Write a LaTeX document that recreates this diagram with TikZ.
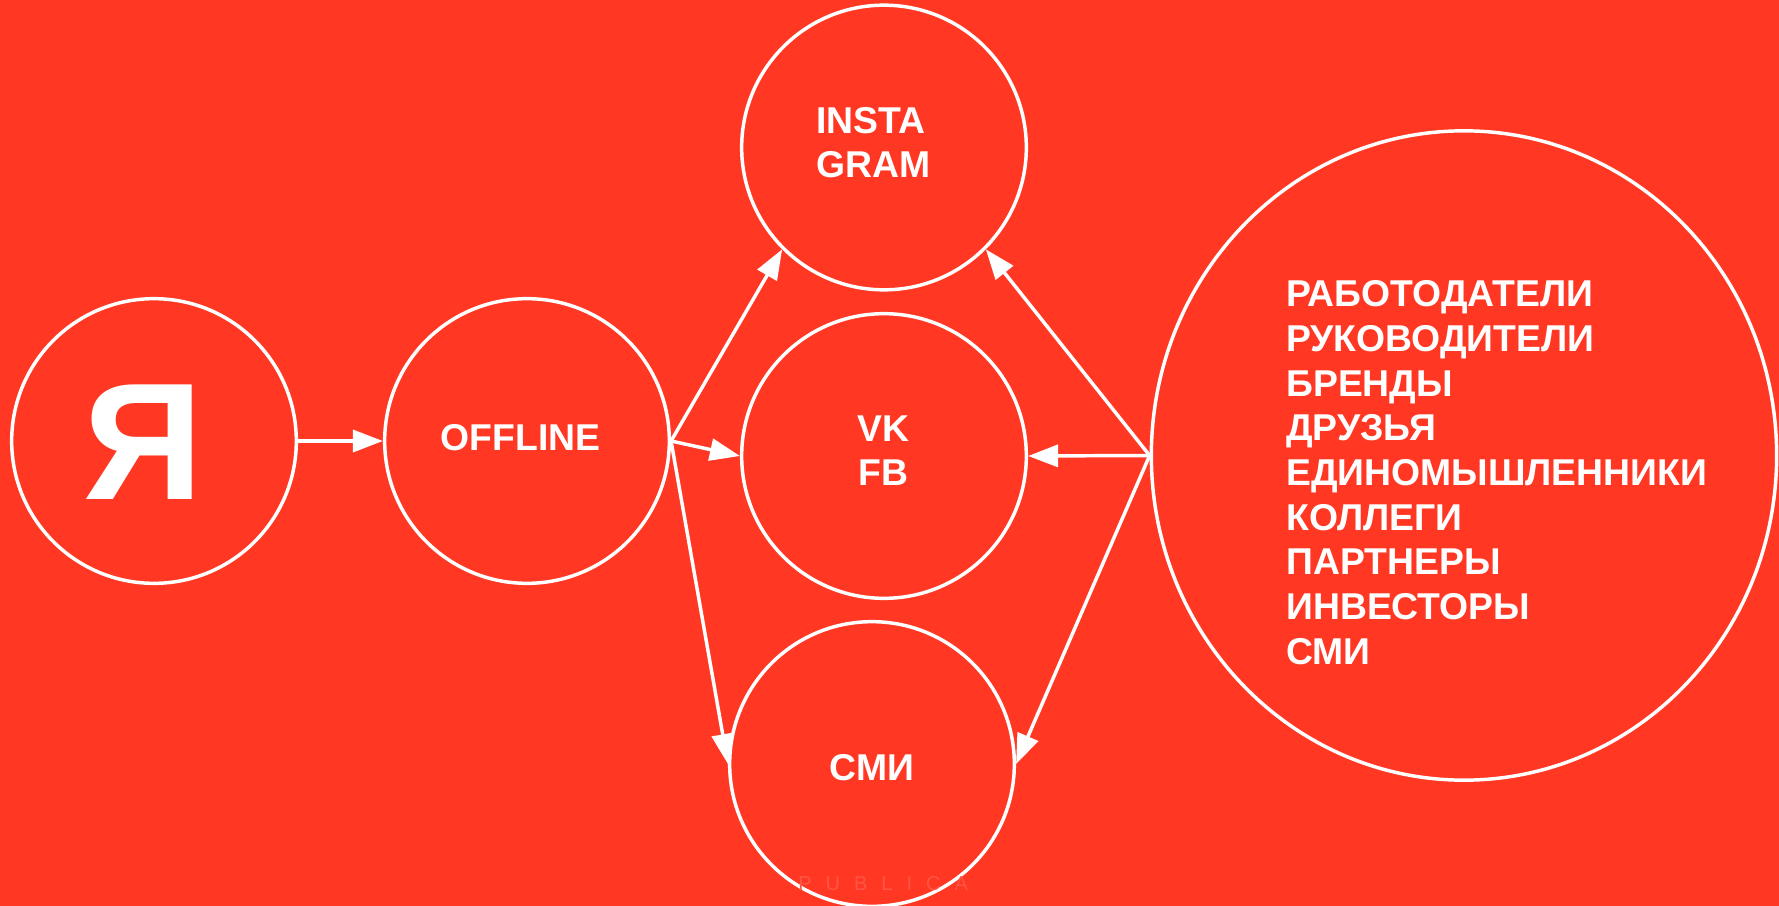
\documentclass[tikz,border=0pt]{standalone}
\usepackage{fontspec}
\setmainfont{Liberation Sans}
\usetikzlibrary{arrows.meta,shapes.geometric}
\definecolor{bgred}{HTML}{FF3723}
\definecolor{wmred}{HTML}{FF5544}
\tikzset{
  circ/.style={circle, draw=white, line width=2.6pt, minimum size=213.5pt, inner sep=0pt},
  lbl/.style={text=white, inner sep=0pt, font=\bfseries\fontsize{28pt}{33pt}\selectfont},
  conn/.style={draw=white, line width=2.6pt, -{Triangle[length=22.5pt,width=16.5pt]}}
}
\begin{document}
\begin{tikzpicture}[x=0.75pt,y=-0.75pt]
\fill[bgred] (0,0) rectangle (1779,906);
\useasboundingbox (0,0) rectangle (1779,906);
% circles
\node[circ] (ya) at (154,441) {};
\node[circ] (off) at (527,441) {};
\node[circ] (insta) at (884,147.5) {};
\node[circ] (vk) at (884,456) {};
\node[circ] (smi) at (872,764) {};
\node[ellipse, draw=white, line width=2.6pt, minimum width=469pt, minimum height=487pt, inner sep=0pt] (big) at (1464,455.5) {};
% labels
\node[lbl, font=\bfseries\fontsize{125pt}{130pt}\selectfont] (yat) at (143.5,442) {Я};
\node[lbl] (offt) at (520.5,438) {OFFLINE};
\node[lbl, align=left] (instat) at (873.5,142.5) {INSTA\\GRAM};
\node[lbl, align=center] (vkt) at (883.5,451) {VK\\FB};
\node[lbl] (smit) at (872,767.5) {СМИ};
\node[lbl, align=left, anchor=north west, font=\bfseries\fontsize{28pt}{33.5pt}\selectfont] (list) at (1286,280.5)
  {РАБОТОДАТЕЛИ\\РУКОВОДИТЕЛИ\\БРЕНДЫ\\ДРУЗЬЯ\\ЕДИНОМЫШЛЕННИКИ\\КОЛЛЕГИ\\ПАРТНЕРЫ\\ИНВЕСТОРЫ\\СМИ};
% watermark
\node[text=wmred, inner sep=0pt, anchor=base west, font=\fontsize{15pt}{18pt}\selectfont] (wm) at (798,890.7)
  {P\hspace{10.5pt}U\hspace{10.5pt}B\hspace{10.5pt}L\hspace{10.5pt}I\hspace{10.5pt}C\hspace{10.5pt}A};
% connectors
\draw[conn] (ya.east) -- (off.west);
\draw[conn] (off.east) -- (insta.south west);
\draw[conn] (off.east) -- (vk.west);
\draw[conn] (off.east) -- (smi.west);
\draw[conn] (big.west) -- (insta.south east);
\draw[conn] (big.west) -- (vk.east);
\draw[conn] (big.west) -- (smi.east);
\end{tikzpicture}
\end{document}
